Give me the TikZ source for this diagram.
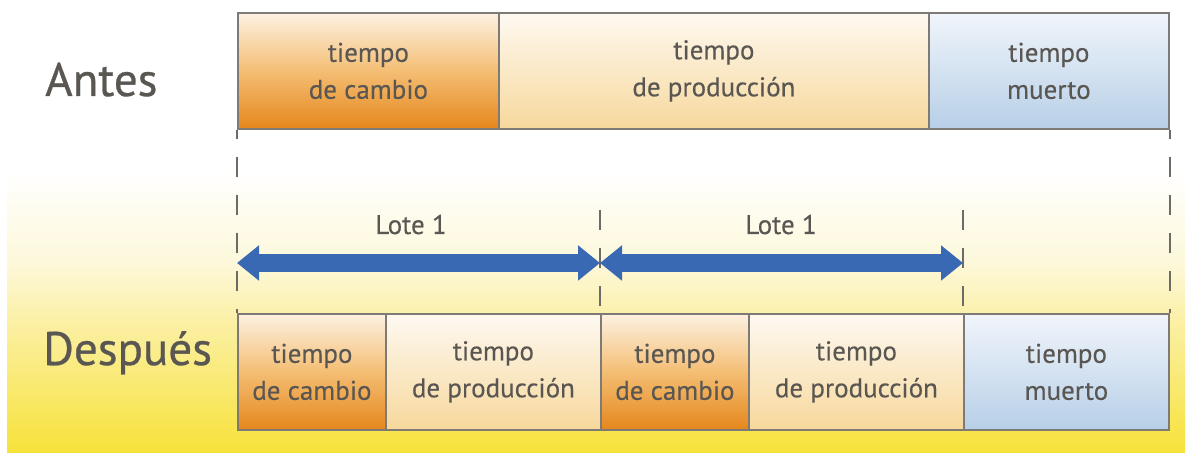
\documentclass[tikz,border=0pt]{standalone}
\usepackage{fontspec}
\setmainfont{PT Sans}
\newfontfamily\boldish[FakeBold=0.6]{PT Sans}
\newfontfamily\semi[FakeBold=0.3]{PT Sans}
\usetikzlibrary{arrows.meta}
\definecolor{txt}{HTML}{5A5652}
\definecolor{bord}{HTML}{7E7A76}
\definecolor{ypale}{HTML}{FDF8DA}
\definecolor{ylight}{HTML}{FBF0A6}
\definecolor{ydeep}{HTML}{F7E23A}
\definecolor{orTop}{HTML}{FDF1E2}
\definecolor{orMid}{HTML}{F4BE74}
\definecolor{orBot}{HTML}{E5871C}
\definecolor{prTop}{HTML}{FEF9F1}
\definecolor{prBot}{HTML}{F7D89C}
\definecolor{blTop}{HTML}{F1F5FB}
\definecolor{blBot}{HTML}{B7CFE7}
\definecolor{arrblue}{HTML}{3A69B3}
\definecolor{dashc}{HTML}{6E6A66}
\tikzset{
  boxsty/.style={draw=bord, line width=1.8pt, minimum height=116pt, anchor=north west,
    inner sep=0pt, text=txt, font=\semi\fontsize{27}{37}\selectfont, align=center},
  orng/.style={top color=orTop, bottom color=orBot, middle color=orMid},
  prod/.style={top color=prTop, bottom color=prBot},
  muerto/.style={top color=blTop, bottom color=blBot},
  rowlabel/.style={text=txt, font=\boldish\fontsize{47}{50}\selectfont, anchor=base west, inner sep=0pt},
  lotesty/.style={text=txt, font=\semi\fontsize{27}{30}\selectfont, anchor=base, inner sep=0pt},
  dsh/.style={draw=dashc, line width=1.8pt, dash pattern=on 20pt off 18pt, dash phase=11pt},
  bluearrow/.style={line width=17pt, draw=arrblue,
    {Triangle[length=22pt,width=34pt]}-{Triangle[length=22pt,width=34pt]}}
}
\begin{document}
\begin{tikzpicture}[x=1pt,y=-1pt]
\useasboundingbox (0,0) rectangle (1185,454);
\fill[white] (0,0) rectangle (1185,454);
\shade[top color=white, bottom color=ypale] (7,170) rectangle (1185,263.5);
\shade[top color=ypale, bottom color=ylight] (7,263) rectangle (1185,320.5);
\shade[top color=ylight, bottom color=ydeep] (7,320) rectangle (1185,452);

% row labels
\node[rowlabel] (antes) at (45,96) {Antes};
\node[rowlabel] (despues) at (43,365) {Después};

% top row
\node[boxsty, orng, minimum width=261pt] (tA) at (237,12) {tiempo\\de cambio};
\node[boxsty, prod, minimum width=430pt] (tB) at (498,12) {tiempo\\de producción};
\node[boxsty, muerto, minimum width=240pt] (tC) at (928,12) {tiempo\\muerto};

% bottom row
\node[boxsty, orng, minimum width=148pt] (b1) at (237,313) {tiempo\\de cambio};
\node[boxsty, prod, minimum width=215pt] (b2) at (385,313) {tiempo\\de producción};
\node[boxsty, orng, minimum width=148pt] (b3) at (600,313) {tiempo\\de cambio};
\node[boxsty, prod, minimum width=215pt] (b4) at (748,313) {tiempo\\de producción};
\node[boxsty, muerto, minimum width=205pt] (b5) at (963,313) {tiempo\\muerto};

% dashed guide lines
\coordinate (g1) at (600,210);
\coordinate (g2) at (963,210);
\draw[dsh] (tA.south west) -- (b1.north west);
\draw[dsh] (tC.south east) -- (b5.north east);
\draw[dsh, dash phase=0pt] (g1) -- (b3.north west);
\draw[dsh, dash phase=0pt] (g2) -- (b5.north west);

% arrows
\coordinate (L0) at (237,263);
\coordinate (L1) at (600,263);
\coordinate (L2) at (963,263);
\draw[bluearrow] (L0) -- (L1);
\draw[bluearrow] (L1) -- (L2);

\node[lotesty] (lote1) at (411,234) {Lote 1};
\node[lotesty] (lote2) at (781,234) {Lote 1};
\end{tikzpicture}
\end{document}
